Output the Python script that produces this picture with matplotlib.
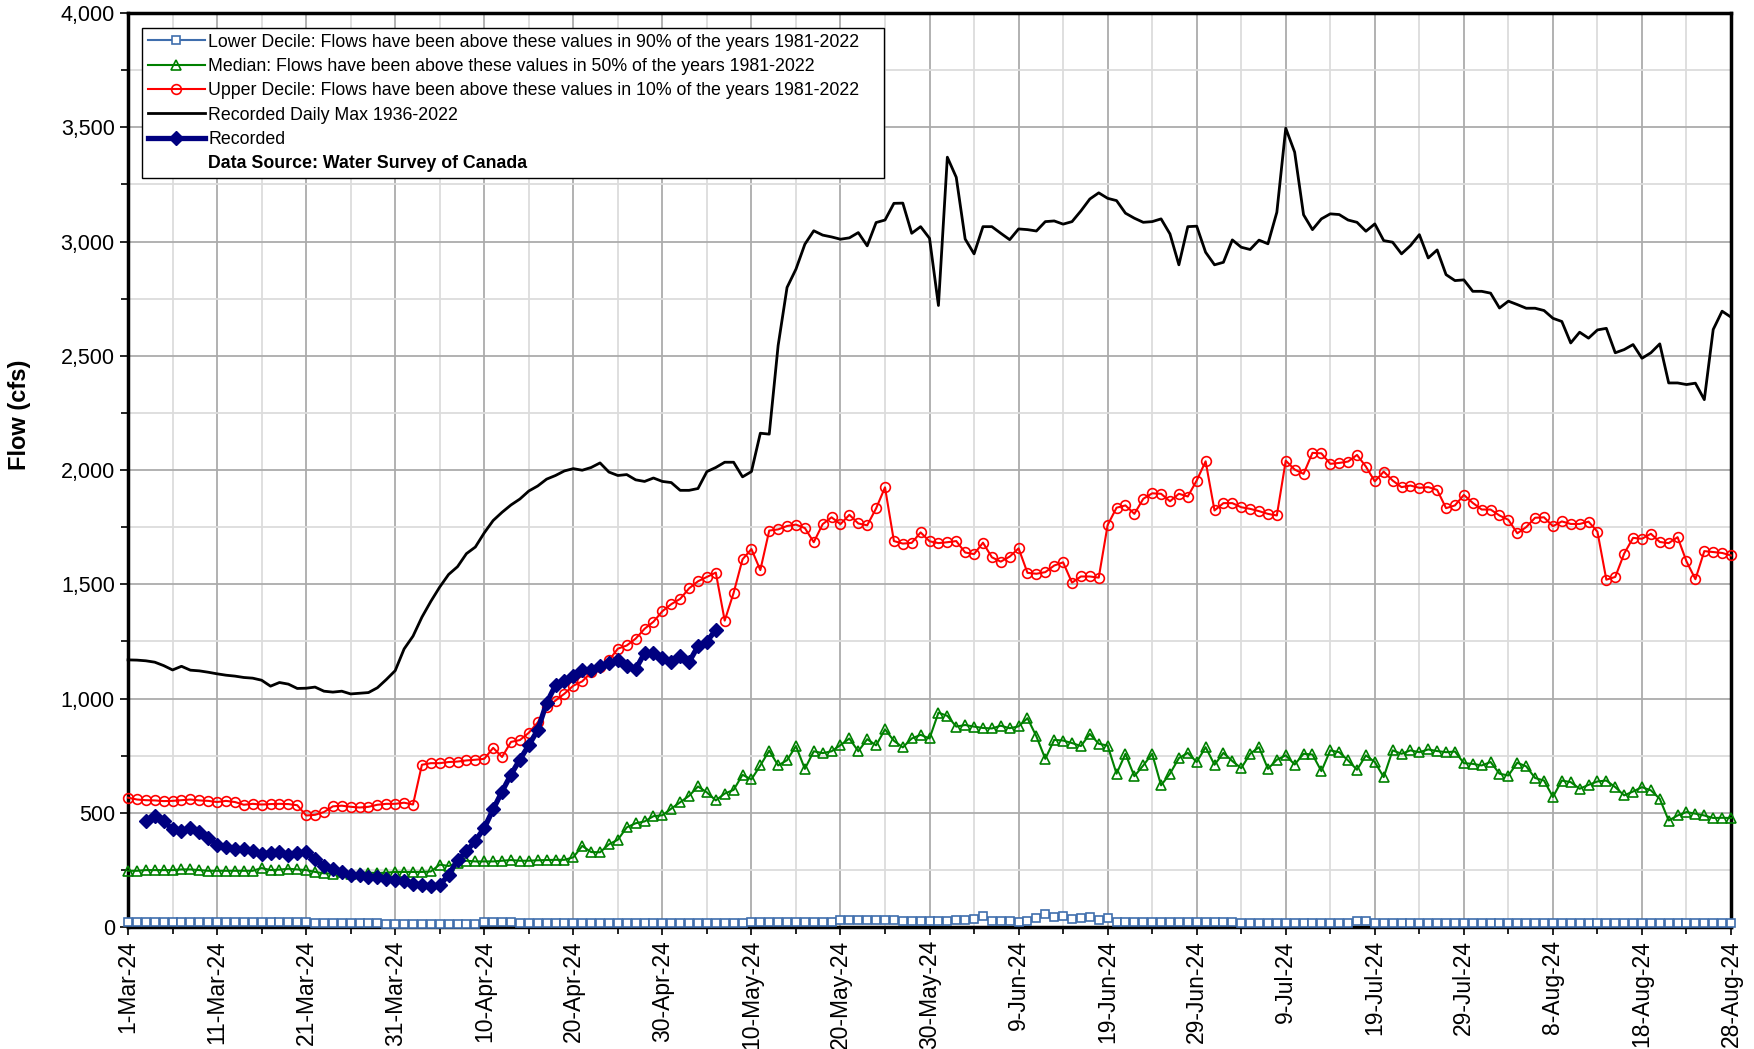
import numpy as np
import matplotlib
matplotlib.use("Agg")
import matplotlib.pyplot as plt
from matplotlib.lines import Line2D
from matplotlib.ticker import FuncFormatter, MultipleLocator

plt.rcParams['font.family'] = ['Liberation Sans', 'DejaVu Sans']

# daily values from 1-Mar-24 to 28-Aug-24 (cfs)
tick_labels = ['1-Mar-24', '11-Mar-24', '21-Mar-24', '31-Mar-24', '10-Apr-24',
               '20-Apr-24', '30-Apr-24', '10-May-24', '20-May-24', '30-May-24',
               '9-Jun-24', '19-Jun-24', '29-Jun-24', '9-Jul-24', '19-Jul-24',
               '29-Jul-24', '8-Aug-24', '18-Aug-24', '28-Aug-24']

lower_decile = [20, 20, 21, 21, 20, 20, 20, 20, 21, 20, 20, 20, 20, 20, 20, 20, 20, 20, 20, 20,
                20, 19, 19, 19, 19, 19, 19, 19, 19, 12, 12, 12, 12, 12, 12, 12, 12, 12, 12, 12,
                22, 22, 22, 22, 16, 16, 16, 16, 16, 16, 16, 16, 16, 16, 16, 16, 16, 16, 16, 16,
                16, 16, 16, 16, 16, 16, 16, 18, 18, 18, 24, 24, 24, 24, 24, 24, 24, 24, 24, 24,
                30, 30, 30, 30, 30, 30, 30, 28, 28, 28, 28, 28, 28, 32, 30, 34, 50, 28, 28, 28,
                22, 26, 40, 56, 44, 46, 34, 40, 42, 30, 38, 22, 22, 22, 22, 20, 20, 20, 20, 20,
                20, 22, 22, 22, 22, 17, 17, 17, 17, 17, 17, 17, 17, 17, 17, 17, 17, 17, 25, 25,
                16, 16, 16, 16, 16, 16, 16, 16, 16, 16, 16, 16, 16, 16, 16, 16, 16, 16, 16, 16,
                16, 16, 16, 16, 16, 16, 16, 16, 16, 16, 16, 16, 16, 16, 16, 16, 16, 16, 16, 16,
                16]

median = [246, 246, 249, 249, 249, 249, 252, 252, 249, 246, 246, 246, 246, 246, 246, 258, 249, 251, 255, 252,
          249, 241, 235, 233, 241, 232, 236, 238, 236, 238, 241, 241, 241, 241, 243, 273, 267, 280, 290, 287,
          287, 287, 290, 293, 290, 290, 292, 293, 294, 294, 305, 355, 328, 327, 362, 382, 436, 454, 462, 485,
          489, 518, 546, 574, 615, 589, 554, 584, 600, 666, 646, 707, 772, 707, 730, 792, 692, 769, 761, 769,
          796, 825, 769, 822, 795, 865, 815, 786, 825, 841, 825, 938, 924, 877, 884, 877, 871, 869, 881, 870,
          878, 914, 834, 736, 819, 816, 805, 792, 845, 802, 794, 671, 758, 660, 707, 758, 620, 671, 739, 762,
          722, 787, 710, 762, 726, 695, 758, 787, 692, 732, 751, 711, 758, 755, 682, 773, 765, 729, 688, 751,
          722, 656, 773, 758, 773, 765, 777, 770, 765, 768, 717, 714, 707, 722, 671, 663, 719, 703, 652, 641,
          569, 641, 634, 605, 622, 637, 641, 612, 576, 593, 612, 598, 561, 466, 488, 503, 496, 488, 477, 478,
          477]

upper_decile = [566, 558, 555, 554, 551, 552, 555, 558, 554, 552, 547, 552, 547, 535, 539, 536, 538, 539, 538, 533,
                488, 491, 503, 528, 531, 526, 523, 526, 535, 539, 539, 544, 536, 710, 717, 717, 722, 724, 729, 732,
                736, 784, 744, 810, 818, 850, 895, 961, 991, 1021, 1056, 1075, 1114, 1137, 1167, 1218, 1232, 1262, 1305, 1336,
                1382, 1413, 1436, 1482, 1513, 1532, 1551, 1341, 1462, 1609, 1654, 1562, 1735, 1740, 1755, 1761, 1746, 1684, 1763, 1793,
                1763, 1804, 1766, 1758, 1832, 1924, 1689, 1678, 1681, 1727, 1688, 1680, 1684, 1689, 1639, 1632, 1682, 1618, 1599, 1621,
                1657, 1550, 1546, 1553, 1582, 1596, 1507, 1534, 1534, 1529, 1759, 1835, 1845, 1808, 1874, 1898, 1896, 1863, 1896, 1884,
                1954, 2038, 1823, 1855, 1855, 1837, 1830, 1820, 1808, 1801, 2041, 2002, 1983, 2075, 2073, 2027, 2031, 2037, 2066, 2015,
                1950, 1993, 1954, 1925, 1932, 1922, 1925, 1913, 1833, 1845, 1891, 1856, 1827, 1827, 1801, 1782, 1723, 1750, 1791, 1793,
                1754, 1775, 1764, 1764, 1774, 1730, 1520, 1532, 1634, 1703, 1699, 1721, 1685, 1680, 1706, 1600, 1522, 1645, 1641, 1637,
                1626]

daily_max = [1169, 1168, 1165, 1159, 1144, 1125, 1141, 1124, 1121, 1115, 1108, 1102, 1098, 1092, 1089, 1080, 1054, 1070, 1063, 1044,
             1045, 1050, 1032, 1028, 1032, 1020, 1023, 1026, 1047, 1083, 1122, 1217, 1273, 1356, 1425, 1488, 1543, 1577, 1634, 1663,
             1725, 1779, 1815, 1847, 1873, 1908, 1930, 1960, 1976, 1996, 2006, 1999, 2011, 2031, 1991, 1976, 1980, 1957, 1950, 1965,
             1950, 1945, 1911, 1911, 1919, 1993, 2011, 2034, 2034, 1970, 1993, 2161, 2157, 2545, 2799, 2879, 2988, 3047, 3028, 3020,
             3010, 3016, 3039, 2981, 3083, 3094, 3167, 3168, 3036, 3065, 3014, 2720, 3369, 3281, 3011, 2946, 3065, 3065, 3036, 3008,
             3055, 3052, 3046, 3087, 3090, 3076, 3087, 3134, 3186, 3213, 3189, 3179, 3124, 3102, 3084, 3087, 3099, 3033, 2898, 3065,
             3067, 2953, 2898, 2909, 3007, 2975, 2965, 3006, 2990, 3128, 3496, 3391, 3117, 3052, 3099, 3121, 3118, 3094, 3084, 3045,
             3077, 3004, 2997, 2946, 2982, 3030, 2928, 2963, 2855, 2829, 2832, 2782, 2782, 2774, 2709, 2739, 2724, 2708, 2708, 2698,
             2664, 2650, 2556, 2603, 2577, 2613, 2620, 2513, 2527, 2549, 2489, 2513, 2552, 2381, 2381, 2374, 2380, 2308, 2615, 2695,
             2669]

# recorded 2024 flows (none for 1-2 Mar)
recorded = [None, None, 463, 485, 463, 427, 420, 433, 415, 389, 361, 348, 340, 340, 331, 319, 325, 328, 313, 324,
            328, 296, 267, 255, 240, 226, 229, 220, 217, 211, 204, 200, 190, 185, 179, 182, 229, 292, 331, 378,
            433, 515, 593, 667, 733, 795, 862, 980, 1058, 1076, 1100, 1124, 1126, 1141, 1157, 1167, 1141, 1129, 1198, 1198,
            1178, 1160, 1188, 1160, 1229, 1249, 1301]

labels = ['Lower Decile: Flows have been above these values in 90% of the years 1981-2022',
          'Median: Flows have been above these values in 50% of the years 1981-2022',
          'Upper Decile: Flows have been above these values in 10% of the years 1981-2022',
          'Recorded Daily Max 1936-2022',
          'Recorded',
          'Data Source: Water Survey of Canada']

days = np.arange(len(daily_max))
rec = np.array([np.nan if v is None else v for v in recorded], dtype=float)

fig = plt.figure(figsize=(17.54, 10.49), dpi=100)
ax = fig.add_axes([0.073, 0.1163, 0.9139, 0.8713])

l1, = ax.plot(days, lower_decile, color='#3F6EAD', lw=1.5, marker='s', ms=5.5,
              mfc='white', mec='#3F6EAD', mew=1.2, clip_on=False, zorder=3)
l2, = ax.plot(days, median, color='#008000', lw=1.5, marker='^', ms=6.5,
              mfc='none', mec='#008000', mew=1.2, clip_on=False, zorder=4)
l3, = ax.plot(days, upper_decile, color='#FF0000', lw=1.5, marker='o', ms=7,
              mfc='none', mec='#FF0000', mew=1.2, clip_on=False, zorder=5)
l4, = ax.plot(days, daily_max, color='black', lw=2, clip_on=False, zorder=6)
l5, = ax.plot(np.arange(len(rec)), rec, color='#000080', lw=3.8, marker='D', ms=7.5,
              mfc='#000080', mec='#000080', clip_on=False, zorder=7)
blank = Line2D([], [], color='none')

ax.set_xlim(0, 180)
ax.set_ylim(0, 4000)
ax.set_xticks(np.arange(0, 181, 10))
ax.set_xticklabels(tick_labels, rotation=90, fontsize=16.5)
ax.xaxis.set_minor_locator(MultipleLocator(5))
ax.yaxis.set_major_locator(MultipleLocator(500))
ax.yaxis.set_minor_locator(MultipleLocator(250))
ax.yaxis.set_major_formatter(FuncFormatter(lambda v, p: f'{int(v):,}'))
ax.tick_params(axis='y', labelsize=15.5)
ax.tick_params(which='both', direction='out', color='black', width=1.2)
ax.tick_params(which='major', length=6)
ax.tick_params(which='minor', length=5)

ax.grid(which='major', color='#ABABAB', lw=1.3, zorder=0)
ax.grid(which='minor', color='#DCDCDC', lw=1.3, zorder=0)
ax.set_axisbelow(True)

for side in ['left', 'right', 'top', 'bottom']:
    ax.spines[side].set_linewidth(2.5)
    ax.spines[side].set_color('black')

ax.set_ylabel('Flow (cfs)', fontsize=17, fontweight='bold')
ax.yaxis.set_label_coords(-0.0605, 0.56)

leg = ax.legend([l1, l2, l3, l4, l5, blank], labels, loc='upper left',
                bbox_to_anchor=(0.0087, 0.823, 0.4629, 0.1606), mode='expand',
                borderaxespad=0, fontsize=12.8, numpoints=1, handlelength=3.2,
                handletextpad=0.2, labelspacing=0.41, borderpad=0.32,
                fancybox=False, framealpha=1, edgecolor='black')
leg.get_frame().set_linewidth(1.0)
leg.get_texts()[5].set_fontweight('bold')
leg.set_zorder(10)

fig.savefig('out.png', dpi=100)
